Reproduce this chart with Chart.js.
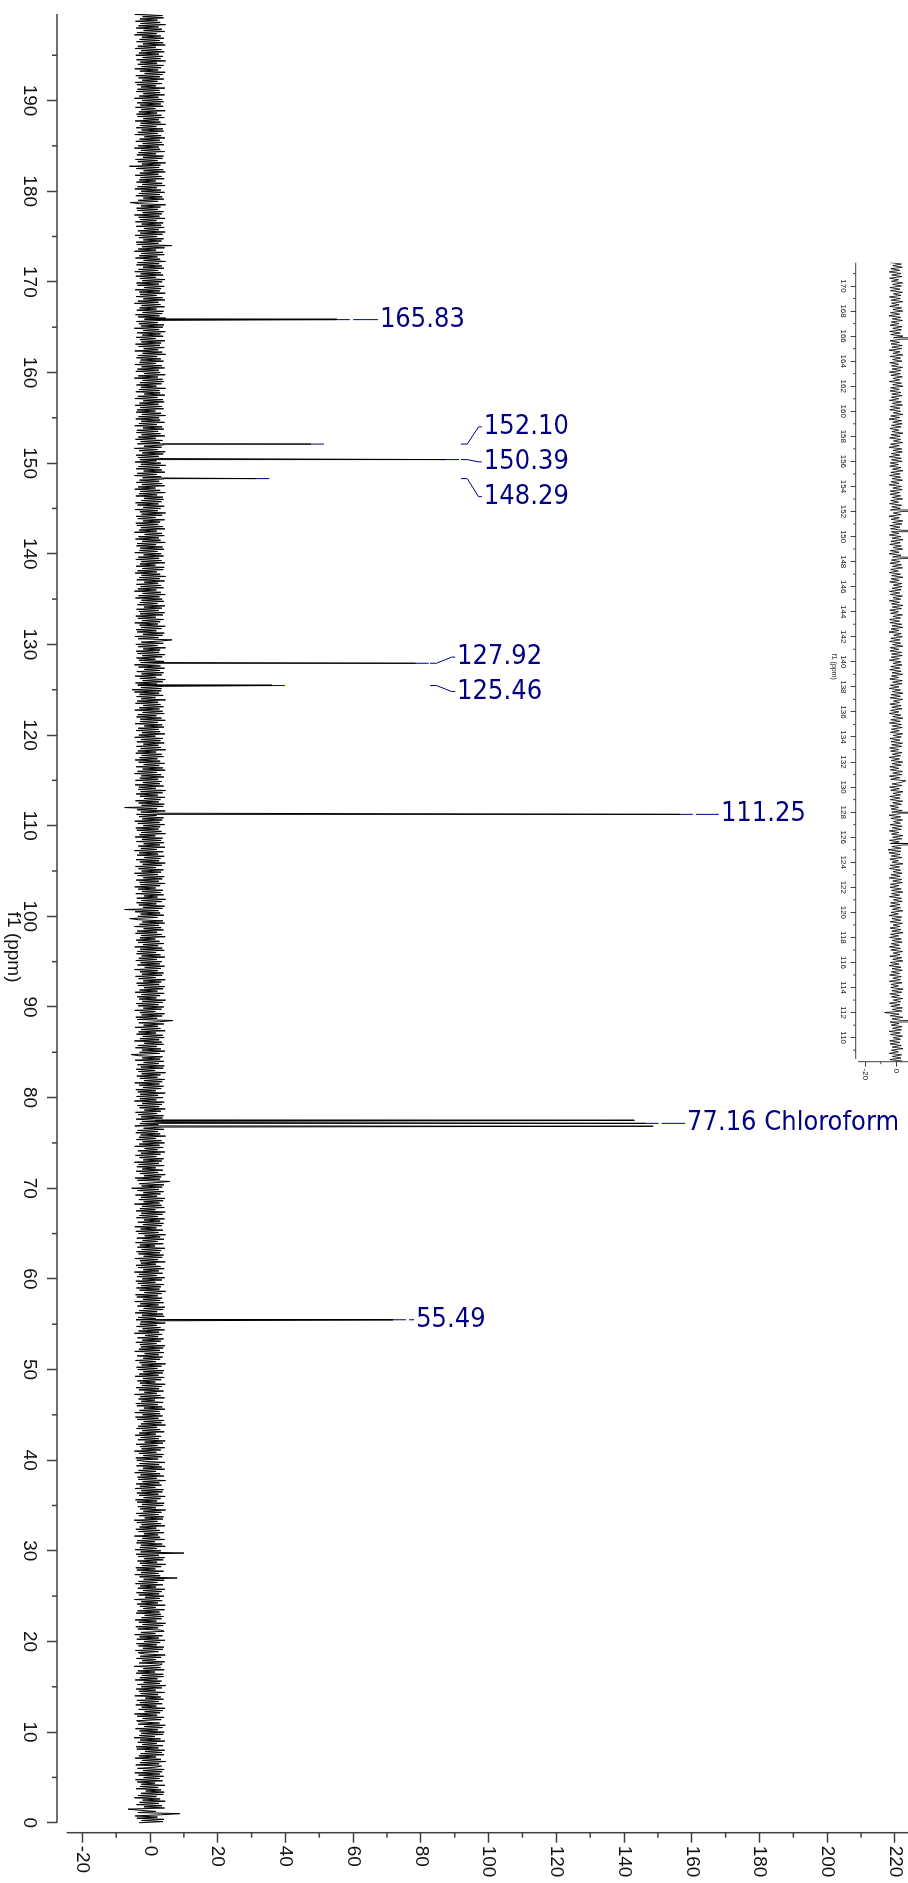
<!DOCTYPE html>
<html>
<head>
<meta charset="utf-8">
<script src="https://cdn.jsdelivr.net/npm/chart.js@4.4.1/dist/chart.umd.min.js"></script>
<style>
  html, body { margin: 0; padding: 0; background: #fff; }
  body { width: 908px; height: 1883px; overflow: hidden; position: relative; }
  /* the spectrum is drawn the usual NMR way and turned a quarter clockwise */
  #spectrum { position: absolute; left: 0; top: 0; width: 1883px; height: 908px;
    transform-origin: 0 0; transform: translate(908px, 0) rotate(90deg); }
  #spectrum canvas { position: absolute; left: 0; top: 0; }
</style>
</head>
<body>
<div id="spectrum">
  <canvas id="mainChart" width="1883" height="908"></canvas>
  <canvas id="insetChart" width="1883" height="908"></canvas>
</div>
<script>
// baseline noise, one value every 0.125 ppm starting at 0 ppm (one row = 5 ppm)
const ppmStart = 0;
const ppmStep = 0.125;
const noise = [
  -3.2, 3.8, -2.5, 4.1, -3.9, 2.2, -4.4, 3.1, 8.8, -3.6, 1.7, -2.9, -6.5, 4.3, -1.8, 3.5, -4.0, 2.6, -3.1, 4.5, -2.2, 3.0, -4.6, 1.9, -3.5, 3.9, -2.7, 4.2, -1.3, 3.3, -4.1, 2.4, -3.0, 4.4, -2.6, 1.5, -3.8, 3.7, -4.3, 2.8,
  -1.9, 4.0, -3.4, 2.9, -4.5, 3.6, -2.1, 4.2, -3.7, 1.6, 3.4, -4.2, 2.7, -3.0, 4.6, -2.4, 3.2, -4.4, 1.8, -3.3, 4.1, -2.8, 3.5, -1.5, 4.3, -3.9, 2.5, -4.1, 3.8, -2.3, 2.0, -3.6, 4.4, -2.9, 3.1, -4.7, 1.4, -3.2, 3.9, -2.6,
  4.2, -3.1, 2.3, -4.3, 3.7, -1.7, 4.5, -3.5, 2.8, -2.7, -4.0, 3.3, -2.2, 4.1, -3.8, 2.1, -4.6, 3.0, -1.6, 3.8, -3.4, 4.4, -2.5, 1.9, -4.2, 3.6, -3.0, 2.6, -3.9, 4.0, -1.4, 3.2, -4.5, 2.4, -2.8, 4.3, -3.3, 1.7, -4.1, 3.5,
  -2.6, 4.6, -3.7, 2.9, -1.9, 3.4, -4.4, 2.2, -3.0, 4.0, -2.4, 3.9, -4.1, 1.5, -3.6, 4.2, -2.0, 3.1, -4.7, 2.7, 3.6, -3.2, 4.3, -2.3, 1.8, -4.0, 3.3, -2.9, 4.5, -1.7, -3.5, 2.5, -4.3, 3.8, -2.1, 4.1, -3.4, 2.0, -4.0, 3.0,
  -1.8, 4.4, -3.9, 2.6, -3.1, 3.7, -4.5, 1.6, -2.7, 4.2, 3.1, -3.6, 2.4, -4.2, 3.9, -2.2, 4.6, -3.3, 1.9, -4.4, 3.4, -2.5, 4.0, -1.6, 3.2, -4.1, 2.8, -3.7, 4.3, -2.0, 1.7, -3.0, 4.5, -3.8, 2.3, -2.6, 3.6, -4.6, 2.9, -1.5,
  4.1, -3.3, 2.7, -4.0, 3.5, -2.1, 4.4, -3.6, 1.8, -2.9, 3.8, -4.3, 2.2, -3.4, 4.2, -1.9, 8.0, -3.1, 3.0, -4.5, 2.5, -2.6, 4.0, -3.9, 1.6, -4.2, 3.3, -2.4, 4.6, -3.0, 2.1, -3.7, 3.9, -1.7, 4.3, -3.5, 2.6, -4.1, 10.0, -2.8,
  3.2, -4.4, 2.0, -3.0, 4.5, -2.7, 3.6, -4.0, 1.5, -3.8, 4.3, -2.3, 3.0, -4.6, 2.4, -1.8, 4.1, -3.4, 2.9, -4.2, 1.9, -3.1, 4.4, -2.5, 3.3, -3.9, 2.2, -4.7, 3.8, -1.6, 4.0, -3.3, 2.6, -4.1, 3.4, -2.0, 4.6, -2.9, 1.7, -3.6,
  3.9, -2.4, 4.2, -3.8, 2.1, -4.3, 3.1, -1.9, 4.5, -3.2, 2.5, -3.9, 3.7, -2.6, 4.0, -4.4, 1.6, -3.0, 3.4, -4.1, 2.8, -2.2, 4.6, -3.5, 2.0, -3.7, 4.1, -2.8, 3.0, -4.5, 1.8, -3.4, 4.3, -2.1, 3.5, -4.0, 2.7, -3.1, 4.4, -1.7,
  -3.9, 2.4, -4.2, 3.6, -2.0, 4.0, -3.3, 1.9, -4.6, 3.2, -2.5, 4.3, -3.0, 2.2, -4.1, 3.8, -1.6, 4.5, -3.6, 2.6, -2.8, 3.3, -4.4, 1.7, -3.2, 4.2, -2.3, 3.0, -4.0, 2.1, -3.5, 4.6, -2.7, 3.4, -1.9, 4.1, -3.8, 2.5, -4.3, 3.7,
  -2.2, 3.0, -4.5, 2.8, -3.1, 4.4, -1.8, 3.6, -3.9, 2.3, -4.2, 3.9, -2.6, 1.5, -3.4, 4.3, -2.9, 3.1, -4.6, 2.0, -1.7, 4.0, -3.3, 2.7, -4.1, 3.5, -2.4, 4.5, -3.0, 1.6, -3.7, 3.3, -2.1, 4.2, -4.4, 2.5, -3.2, 3.8, -2.0, 4.1,
  -3.6, 2.2, -4.0, 3.4, -2.5, 4.6, -3.1, 1.8, -4.3, 3.0, -2.0, 3.7, -3.8, 2.6, -1.6, 4.1, -4.5, 2.9, -3.3, 3.9, -2.7, 4.4, -3.0, 1.9, -4.2, 3.2, -2.3, 4.0, -3.7, 2.4, -1.5, 3.6, -4.6, 2.7, -3.4, 4.3, -2.2, 3.1, -4.0, 2.0,
  -3.0, 4.5, -2.8, 3.3, -4.1, 1.7, -3.5, 4.2, -2.4, 3.8, -4.4, 2.1, -3.2, 3.9, -1.9, 4.4, -3.7, 2.5, -2.9, 4.0, -4.5, 3.0, -2.1, 3.6, -3.9, 2.3, -4.3, 3.4, -1.7, 4.6, -3.1, 2.8, -4.0, 3.2, -2.6, 4.1, -3.6, 1.6, -4.2, 3.5,
  -2.3, 4.3, -3.8, 2.0, -3.3, 3.7, -4.6, 2.6, -2.0, 4.2, -3.5, 3.1, -4.1, 1.8, -2.7, 4.5, -3.0, 2.4, -4.4, 3.6, -1.9, 4.0, -3.4, 2.9, -4.0, 3.3, -2.5, 4.4, -3.7, 1.5, -3.0, 3.9, -4.3, 2.2, -2.2, 4.1, -3.9, 3.0, -1.6, 4.6,
  -3.4, 2.5, -4.2, 3.8, -2.8, 1.9, -4.5, 3.5, -2.1, 4.0, -3.6, 3.0, -1.8, 4.3, -4.0, 2.3, -3.1, 3.7, -2.6, 4.5, -4.1, 1.6, -3.0, 4.2, -2.4, 3.4, -4.6, 2.8, -1.9, 3.9, -3.3, 4.4, -2.7, 2.1, -4.3, 3.1, -2.0, 4.0, -3.8, 2.6,
  -5.4, 3.6, -2.5, 4.1, -3.2, 2.0, 5.9, -3.7, 2.9, -4.4, 3.3, -1.8, 4.5, -3.0, 2.4, -4.1, 3.8, -2.3, 1.7, -3.9, 4.2, -3.4, 2.6, -4.6, 3.5, -2.0, 4.0, -3.1, 1.9, -4.3, 3.1, -2.7, 4.4, -3.6, 2.2, -1.6, 3.9, -4.5, 2.8, -3.2,
  4.3, -2.2, 3.4, -4.0, 1.8, -3.3, 4.6, -2.8, 3.0, -4.2, 2.3, -3.7, 4.1, -1.9, 3.6, -4.5, 2.5, -3.0, 4.4, -2.4, 1.6, -4.1, 3.7, -2.6, 4.0, -3.5, 2.1, -4.3, 3.2, -1.7, 4.5, -3.1, 2.7, -3.8, 3.5, -2.3, 4.2, -4.6, 1.9, -3.0,
  3.8, -4.0, 2.4, -2.9, 4.5, -3.6, 1.7, -4.2, 3.3, -2.1, 4.0, -3.2, 2.8, -4.5, 3.6, -1.8, 4.3, -3.0, 2.2, -3.9, 3.1, -2.5, 4.6, -3.4, 1.5, -4.1, 3.9, -2.7, 4.2, -3.7, 2.6, -1.9, 4.1, -4.4, 3.0, -2.3, 3.7, -3.5, -5.6, 2.8,
  -3.1, 4.4, -2.4, 3.2, -4.3, 2.0, -3.6, 4.0, -1.7, 3.5, -4.6, 2.7, -3.0, 4.2, -2.2, 3.8, -4.0, 1.8, -3.4, 4.5, -2.6, 3.1, -4.4, 2.3, -1.9, 4.1, -3.3, 2.9, 6.8, -3.8, 2.1, -4.2, 3.6, -2.5, 4.3, -3.0, 1.6, -4.5, 3.4, -2.0,
  4.1, -3.5, 2.5, -4.1, 3.7, -2.3, 4.6, -3.2, 1.9, -3.8, 3.0, -2.6, 4.2, -4.4, 2.2, -3.1, 3.9, -1.8, 4.4, -3.6, 2.7, -4.0, 3.3, -2.0, 4.5, -3.4, 1.7, -4.3, 3.6, -2.4, 4.0, -3.0, 2.3, -4.6, 3.2, -1.6, 4.3, -3.7, 2.9, -2.8,
  3.5, -4.2, 2.0, -3.3, 4.4, -2.5, 3.1, -4.0, 1.8, -3.7, 4.2, -2.9, 3.6, -4.5, 2.4, -2.1, 4.1, -3.5, 2.8, -4.1, 1.6, -3.0, 4.5, -2.6, 3.4, -4.3, 2.1, -3.8, 4.0, -1.9, 3.3, -4.6, 2.6, -3.1, 4.3, -2.3, 3.8, -3.4, -6.0, 2.2,
  -3.6, 4.1, -2.8, 3.0, -4.4, 2.5, -7.5, 3.7, -2.1, 4.3, -3.3, 1.9, -4.0, 3.5, -2.6, 4.6, -3.9, 2.2, -1.8, 4.0, -4.2, 3.2, -2.4, 3.8, -3.5, 1.7, -4.5, 3.0, -2.9, 4.4, -3.1, 2.6, -4.1, 3.6, -2.0, 4.2, -3.7, 2.3, -4.6, 3.3,
  -2.5, 4.0, -3.4, 1.8, -4.3, 3.5, -2.2, 4.5, -3.0, 2.7, -4.1, 3.1, -1.7, 4.2, -3.8, 2.4, -3.2, 3.9, -4.6, 2.0, -2.7, 4.4, -3.5, 2.9, -1.9, 4.1, -4.0, 3.3, -2.4, 3.7, -4.4, 1.6, -3.1, 4.6, -2.6, 3.4, -3.9, 2.5, -4.2, 3.0,
  -2.0, 4.3, -3.6, 2.8, -4.5, 3.6, -2.3, 4.0, -3.2, 1.9, -4.0, 3.4, -2.7, 4.5, -3.8, 2.1, -7.5, 3.9, -2.5, 4.2, -3.4, 2.6, -4.3, 3.1, -1.8, 4.4, -3.0, 2.3, -4.1, 3.7, -2.8, 4.6, -3.5, 1.7, -3.3, 4.0, -4.4, 2.9, -2.1, 3.5,
  -4.3, 2.4, -3.0, 4.1, -2.6, 3.3, -4.6, 2.0, -3.7, 4.5, -2.2, 3.8, -4.1, 2.7, -1.9, 4.3, -3.4, 3.0, -4.4, 2.2, -3.1, 4.0, -2.5, 3.5, -4.2, 1.8, -3.6, 4.6, -2.8, 3.2, -4.0, 2.5, -2.0, 4.2, -3.9, 3.1, -2.7, 3.8, -4.5, 1.6,
  -3.3, 4.4, -2.4, 3.0, -4.1, 2.6, -3.5, 4.1, -1.7, 3.6, -4.4, 2.3, -3.0, 4.5, -2.9, 3.4, -4.0, 1.9, -3.6, 4.2, -2.2, 3.7, -4.5, 2.8, -3.2, 4.0, -2.0, 3.1, -4.3, 2.4, -3.8, 4.6, -2.6, 1.6, -4.0, 3.9, -3.1, 2.7, -4.6, 3.3,
  -5.3, 3.4, -2.7, 4.2, -3.6, 2.1, -4.3, 3.8, -2.2, 4.5, -3.0, 1.8, -4.4, 3.5, -2.5, 4.0, -3.9, 2.9, -1.7, 4.3, -3.4, 3.1, -4.6, 2.4, -2.8, 4.1, -3.3, 1.6, -4.0, 3.6, -2.3, 4.4, -3.7, 2.7, -4.1, 3.0, -2.0, 4.6, -3.5, 2.2,
  -4.2, 3.9, -2.6, 3.2, 6.5, -3.5, 2.5, -4.4, 3.7, -2.1, 4.2, -3.8, 1.9, -4.1, 3.4, -2.7, 4.5, -3.1, 2.3, -4.5, 3.0, -2.4, 4.0, -3.6, 1.7, -4.2, 3.8, -2.9, 4.3, -3.3, 2.6, -4.0, 3.5, -1.8, 4.4, -3.7, 2.2, -3.0, 4.1, -2.5,
  3.6, -4.3, 2.8, -3.4, 4.5, -2.2, 3.2, -4.6, 1.9, -3.6, 4.0, -2.8, 3.3, -4.0, 2.4, -1.7, 4.3, -3.9, 2.9, -3.2, 4.6, -2.5, 3.0, -4.4, 2.0, -3.7, 3.9, -2.3, 4.2, -4.1, 1.6, -3.0, 4.4, -2.6, 3.4, -4.2, 2.7, -3.5, 4.0, -1.9,
  3.3, -4.5, 2.2, -3.1, 4.1, -2.9, 3.7, -4.0, 1.8, -3.8, 4.5, -2.3, 3.1, -4.3, 2.6, -3.4, 4.2, -1.6, 3.5, -4.6, 2.0, -3.2, 4.4, -2.7, 3.8, -3.9, 2.4, -4.2, 3.0, -2.1, 4.3, -3.6, 1.7, -4.1, 3.6, -2.5, 4.6, -3.0, 2.3, -4.4,
  3.1, -2.0, 4.2, -3.7, 2.5, -4.3, 3.4, -2.6, 4.0, -1.8, 3.8, -4.2, 2.1, -3.3, 4.5, -2.9, 3.0, -4.5, 1.6, -3.5, 4.3, -2.4, 3.6, -4.0, 2.7, -3.1, 4.1, -2.2, 3.3, -4.6, 2.0, -3.8, 4.4, -1.9, 3.5, -4.1, 2.8, -3.4, 4.6, -2.7,
  3.2, -4.4, 1.9, -3.0, 4.2, -3.6, 2.6, -4.1, 3.9, -2.3, 4.5, -3.2, 2.2, -4.6, 3.4, -1.8, 4.0, -3.7, 2.9, -2.8, 3.7, -4.3, 1.7, -3.5, 4.4, -2.5, 3.1, -4.0, 2.4, -3.9, 4.1, -2.1, 3.6, -4.5, 2.0, -3.3, 4.3, -2.6, 3.0, -4.2,
  2.7, -3.4, 4.6, -2.4, 3.3, -4.1, 1.6, -3.8, 4.0, -2.9, 3.5, -4.4, 2.5, -3.1, 4.2, -2.0, 3.8, -4.5, 2.2, -3.6, 4.4, -1.7, 3.0, -4.2, 2.8, -3.3, 4.6, -2.7, 1.9, -4.0, 3.4, -3.0, 4.1, -2.2, 3.7, -4.6, 2.3, -3.5, 4.5, -1.8,
  3.0, -4.2, 2.6, -3.7, 4.3, -2.5, 3.5, -4.4, 1.8, -3.1, 4.0, -2.8, 3.2, -4.0, 2.1, -3.6, 4.6, -2.2, 3.6, -4.5, 2.4, -1.9, 4.2, -3.4, 2.9, -4.3, 3.3, -2.6, 4.4, -3.0, 1.7, -4.1, 3.9, -2.3, 3.1, -3.8, 4.5, -2.0, 2.7, -4.6,
  3.8, -2.7, 4.1, -3.3, 2.3, -4.0, 3.4, -1.6, 4.6, -3.5, 2.8, -4.3, 3.6, -2.2, 4.0, -3.9, 1.9, -3.1, 4.3, -2.5, 3.1, -4.6, 2.5, -3.6, 4.4, -2.0, 3.7, -4.1, 2.0, -2.9, 4.5, -3.2, 2.9, -4.4, 3.3, -1.8, 4.2, -3.7, 2.6, -4.0,
  3.6, -2.3, 4.4, -3.0, 1.7, -4.2, 3.9, -2.8, 3.2, -4.5, 2.4, -3.4, 4.1, -2.1, 3.5, -4.0, 2.7, -3.7, 4.6, -1.9, 3.0, -4.3, 2.2, -3.2, 4.2, -2.6, 3.8, -4.6, 1.8, -3.5, 4.3, -2.4, 6.5, -3.9, 2.5, -4.1, 3.4, -2.0, 4.0, -3.3,
  2.1, -4.4, 3.7, -2.9, 4.5, -3.6, 2.6, -1.8, 4.2, -4.1, 3.3, -2.5, 3.9, -4.3, 1.9, -3.0, 4.4, -3.4, 2.8, -4.6, 3.5, -2.2, 4.0, -3.8, 2.3, -4.0, 3.1, -2.7, 4.6, -3.1, -5.9, 2.4, -3.5, 4.1, -2.0, 3.6, -4.2, 2.9, -3.3, 4.3,
  -2.6, 3.2, -4.5, 2.0, -3.7, 4.4, -2.3, 3.6, -4.0, 1.7, -3.2, 4.2, -2.8, 3.4, -4.4, 2.5, -3.0, 4.5, -1.9, 3.9, -4.1, 2.7, -6.1, 3.1, -2.4, 4.6, -3.6, 2.2, -4.3, 3.7, -2.1, 4.0, -3.9, 1.8, -3.4, 4.3, -2.7, 3.0, -4.6, 2.6,
  -3.5, 4.1, -2.2, 3.5, -4.2, 2.9, -3.1, 4.4, -1.7, 3.3, -4.5, 2.3, -3.6, 4.0, -2.5, 3.8, -4.1, 1.9, -3.0, 4.6, -2.8, 3.1, -4.4, 2.6, -2.0, 4.2, -3.7, 3.4, -4.0, 2.1, -3.3, 4.5, -2.6, 1.6, -4.3, 3.9, -2.9, 3.2, -3.8, 4.0,
  -2.4, 3.6, -4.6, 2.5, -3.2, 4.3, -2.0, 3.0, -4.1, 2.8, -3.7, 4.4, -2.7, 1.8, -3.9, 3.5, -4.4, 2.2, -2.3, 4.1, -3.4, 2.9, -4.2, 3.7, -1.6, 4.5, -3.0, 2.4, -4.5, 3.3, -2.5, 4.0, -3.6, 2.1, -2.9, 4.6, -4.0, 3.1, -2.2, 3.8,
  -4.2, 2.6, -3.3, 4.2, -2.6, 3.4, -4.4, 1.7, -3.6, 4.5, -2.1, 3.9, -4.0, 2.8, -3.1, 4.1, -2.4, 3.2, -4.6, 2.0, -3.8, 4.3, -1.9, 3.5, -4.1, 2.5, -3.4, 4.6, -2.8, 3.0, -4.3, 2.2, -3.0, 4.0, -2.2, 3.7, -4.5, 2.7, -3.5, 4.4
];

// peaks (ppm, height)
const peakPpm = [165.83, 152.10, 150.39, 148.29, 127.92, 125.46, 111.25, 77.48, 77.16, 76.84, 55.49];
const peakHeight = [55.2, 47.6, 87.5, 31.4, 78.5, 36.0, 156.5, 143.0, 146.4, 148.6, 71.8];

// peak labels
const labelText = ['165.83', '152.10', '150.39', '148.29', '127.92', '125.46', '111.25', '77.16 Chloroform', '55.49'];
const labelPeak = [165.83, 152.10, 150.39, 148.29, 127.92, 125.46, 111.25, 77.16, 55.49];
const labelTip = [55.2, 47.6, 87.5, 31.4, 78.5, 36.0, 156.5, 146.4, 71.8];
const labelKnee = [60.0, 91.8, 91.8, 91.8, 82.7, 82.7, 161.2, 151.1, 76.5];
const labelAt = [165.83, 154.0, 150.14, 146.3, 128.6, 124.8, 111.25, 77.16, 55.49];
const labelStart = [67.9, 98.6, 98.6, 98.6, 90.7, 90.7, 168.6, 158.6, 78.6];

// axes
const ppmTicks = [0, 10, 20, 30, 40, 50, 60, 70, 80, 90, 100, 110, 120, 130, 140, 150, 160, 170, 180, 190];
const ppmMinorTicks = [5, 15, 25, 35, 45, 55, 65, 75, 85, 95, 105, 115, 125, 135, 145, 155, 165, 175, 185, 195];
const intensityTicks = [-20, 0, 20, 40, 60, 80, 100, 120, 140, 160, 180, 200, 220];
const intensityMinorTicks = [-10, 10, 30, 50, 70, 90, 110, 130, 150, 170, 190, 210];
const insetPpmTicks = [110, 112, 114, 116, 118, 120, 122, 124, 126, 128, 130, 132, 134, 136, 138, 140, 142, 144, 146, 148, 150, 152, 154, 156, 158, 160, 162, 164, 166, 168, 170];
const insetPpmMinorTicks = [109, 111, 113, 115, 117, 119, 121, 123, 125, 127, 129, 131, 133, 135, 137, 139, 141, 143, 145, 147, 149, 151, 153, 155, 157, 159, 161, 163, 165, 167, 169, 171];
const insetIntensityTicks = [-20, 0];
const insetIntensityMinorTicks = [-10];

const axisColor = '#404040';
const textColor = '#111';
const labelColor = '#000080';
const tickFont = '"Liberation Sans", Arial, sans-serif';

function buildSpectrum() {
    let points = noise.map((v, i) => ({x: ppmStart + i * ppmStep, y: v}));
    peakPpm.forEach((p, i) => points.push({x: p, y: peakHeight[i]}));
    points.sort((a, b) => a.x - b.x);
    return points;
}

function line(ctx, x1, y1, x2, y2) {
    ctx.beginPath();
    ctx.moveTo(x1, y1);
    ctx.lineTo(x2, y2);
    ctx.stroke();
}

function drawMinor(ctx, chart, xValues, yValues, len) {
    let x = chart.scales.x, y = chart.scales.y, area = chart.chartArea;
    xValues.forEach(v => {
        let p = x.getPixelForValue(v);
        line(ctx, p, area.bottom, p, area.bottom + len);
    });
    yValues.forEach(v => {
        let p = y.getPixelForValue(v);
        line(ctx, area.right, p, area.right + len, p);
    });
}

function fixedSize(size, horizontal) {
    return function (scale) {
        if (horizontal) {
            scale.height = size;
        } else {
            scale.width = size;
        }
        scale.paddingTop = 0;
        scale.paddingBottom = 0;
        scale.paddingLeft = 0;
        scale.paddingRight = 0;
    };
}

function scaleOptions(opts) {
    return {
        type: 'linear',
        position: opts.position,
        reverse: !!opts.reverse,
        min: opts.min,
        max: opts.max,
        afterFit: fixedSize(opts.size, opts.position === 'bottom'),
        afterBuildTicks: (scale) => {
            scale.ticks = opts.ticks.map(v => ({value: v}));
        },
        border: {display: false},
        grid: {
            display: true,
            drawOnChartArea: false,
            drawTicks: true,
            tickLength: opts.tickLength,
            tickColor: axisColor,
            tickWidth: opts.tickWidth
        },
        ticks: {
            autoSkip: false,
            maxRotation: 0,
            minRotation: 0,
            padding: opts.padding,
            color: textColor,
            font: {family: tickFont, size: opts.fontSize}
        }
    };
}

const mainDecor = {
    id: 'mainDecor',
    afterDraw(chart) {
        let ctx = chart.ctx, x = chart.scales.x, y = chart.scales.y, area = chart.chartArea;
        ctx.save();
        ctx.strokeStyle = axisColor;
        ctx.lineWidth = 1.5;
        line(ctx, x.getPixelForValue(199.55), area.bottom, x.getPixelForValue(0), area.bottom);
        line(ctx, area.right, y.getPixelForValue(-24.6), area.right, 0);
        drawMinor(ctx, chart, ppmMinorTicks, intensityMinorTicks, 5);

        ctx.fillStyle = textColor;
        ctx.font = '19px ' + tickFont;
        ctx.textAlign = 'center';
        ctx.textBaseline = 'middle';
        ctx.fillText('f1 (ppm)', x.getPixelForValue(96.6), 895);

        // peak labels, written along the intensity direction
        ctx.strokeStyle = labelColor;
        ctx.fillStyle = labelColor;
        ctx.lineWidth = 1;
        ctx.font = '27px "DejaVu Sans Condensed", "DejaVu Sans", sans-serif';
        labelText.forEach((text, i) => {
            let pp = x.getPixelForValue(labelPeak[i]);
            let lp = x.getPixelForValue(labelAt[i]);
            line(ctx, pp, y.getPixelForValue(labelTip[i]), pp, y.getPixelForValue(labelTip[i] + 3.8));
            ctx.beginPath();
            ctx.moveTo(pp, y.getPixelForValue(labelKnee[i]));
            if (labelAt[i] !== labelPeak[i]) {
                ctx.lineTo(pp, y.getPixelForValue(labelKnee[i] + 1.9));
                ctx.lineTo(lp, y.getPixelForValue(labelStart[i] - 1.6));
            }
            ctx.lineTo(lp, y.getPixelForValue(labelStart[i] - 0.6));
            ctx.stroke();

            ctx.save();
            ctx.translate(lp, y.getPixelForValue(labelStart[i]));
            ctx.rotate(-Math.PI / 2);
            ctx.textAlign = 'left';
            ctx.textBaseline = 'middle';
            ctx.fillText(text, 0, 0);
            ctx.restore();
        });
        ctx.restore();
    }
};

const insetDecor = {
    id: 'insetDecor',
    afterDraw(chart) {
        let ctx = chart.ctx, x = chart.scales.x, y = chart.scales.y, area = chart.chartArea;
        ctx.save();
        ctx.strokeStyle = axisColor;
        ctx.lineWidth = 1;
        line(ctx, x.getPixelForValue(171.86), area.bottom, x.getPixelForValue(108.3), area.bottom);
        line(ctx, area.right, y.getPixelForValue(-25.1), area.right, 0);
        drawMinor(ctx, chart, insetPpmMinorTicks, insetIntensityMinorTicks, 2.5);
        ctx.fillStyle = textColor;
        ctx.font = '7px ' + tickFont;
        ctx.textAlign = 'center';
        ctx.textBaseline = 'middle';
        ctx.fillText('f1 (ppm)', x.getPixelForValue(139.6), 74);
        ctx.restore();
    }
};

const spectrum = buildSpectrum();

function dataset(width) {
    return {
        data: spectrum,
        showLine: true,
        borderColor: '#000',
        borderWidth: width,
        pointRadius: 0,
        pointHoverRadius: 0,
        tension: 0
    };
}

new Chart(document.getElementById('mainChart').getContext('2d'), {
    type: 'scatter',
    data: {datasets: [dataset(1)]},
    options: {
        responsive: false,
        animation: false,
        events: [],
        layout: {padding: {left: 14, top: 0, right: 0, bottom: 0}},
        plugins: {legend: {display: false}, tooltip: {enabled: false}},
        scales: {
            x: scaleOptions({position: 'bottom', reverse: true, min: -1.1, max: 199.55, size: 57,
                ticks: ppmTicks, tickLength: 10, tickWidth: 1.5, padding: 6, fontSize: 19}),
            y: scaleOptions({position: 'right', min: -27.47, max: 223.86, size: 50.3,
                ticks: intensityTicks, tickLength: 10, tickWidth: 1.5, padding: 3, fontSize: 19})
        }
    },
    plugins: [mainDecor]
});

new Chart(document.getElementById('insetChart').getContext('2d'), {
    type: 'scatter',
    data: {datasets: [dataset(0.8)]},
    options: {
        responsive: false,
        animation: false,
        events: [],
        layout: {padding: {left: 262.7, top: 0, right: 0, bottom: 0}},
        plugins: {legend: {display: false}, tooltip: {enabled: false}},
        scales: {
            x: scaleOptions({position: 'bottom', reverse: true, min: 108.08, max: 171.86, size: 855.7,
                ticks: insetPpmTicks, tickLength: 5, tickWidth: 1, padding: 3, fontSize: 8}),
            y: scaleOptions({position: 'right', min: -26.6, max: 7.92, size: 821.3,
                ticks: insetIntensityTicks, tickLength: 5, tickWidth: 1, padding: 2, fontSize: 8})
        }
    },
    plugins: [insetDecor]
});
</script>
</body>
</html>
